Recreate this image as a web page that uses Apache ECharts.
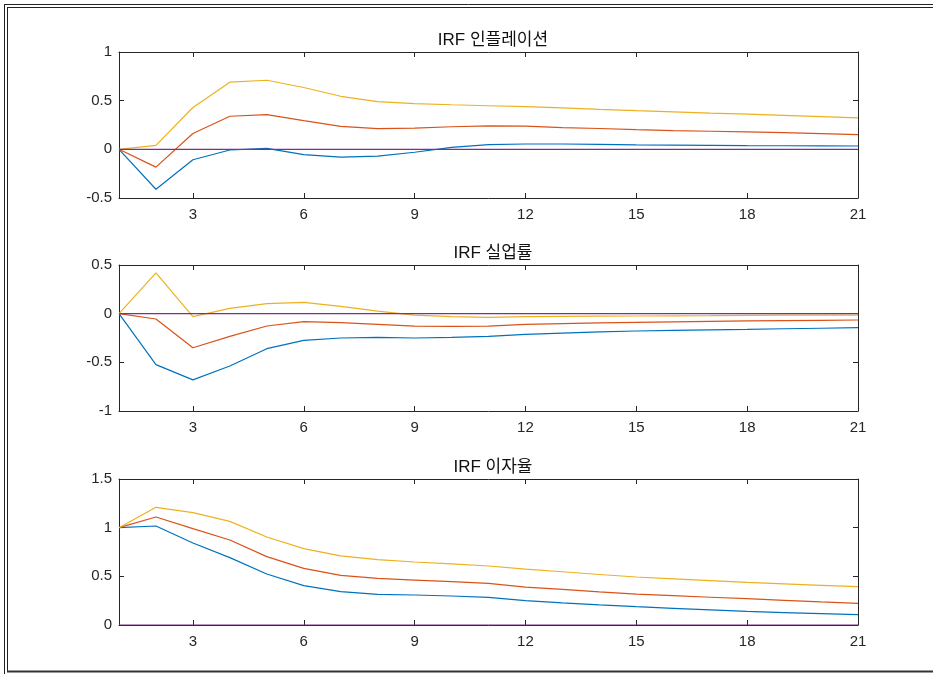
<!DOCTYPE html>
<html>
<head>
<meta charset="utf-8">
<script src="https://cdn.jsdelivr.net/npm/echarts@6/dist/echarts.min.js"></script>
<style>
  html, body { margin: 0; padding: 0; background: #fff; }
  #chart { width: 933px; height: 674px; }
</style>
</head>
<body>
<div id="chart"></div>
<script>
// periods 1..21
var periods = [1, 2, 3, 4, 5, 6, 7, 8, 9, 10, 11, 12, 13, 14, 15, 16, 17, 18, 19, 20, 21];
var xTicks = [3, 6, 9, 12, 15, 18, 21];
var titles = ['IRF 인플레이션', 'IRF 실업률', 'IRF 이자율'];

// panel 1: inflation
var infLower = [0, -0.41, -0.107, -0.007, 0.01, -0.055, -0.08, -0.07, -0.03, 0.02, 0.048, 0.055, 0.055, 0.05, 0.045, 0.043, 0.04, 0.038, 0.037, 0.035, 0.034];
var infMid   = [0, -0.183, 0.163, 0.34, 0.357, 0.295, 0.236, 0.212, 0.218, 0.232, 0.241, 0.238, 0.224, 0.214, 0.203, 0.193, 0.186, 0.179, 0.172, 0.162, 0.152];
var infUpper = [0, 0.04, 0.43, 0.69, 0.71, 0.635, 0.545, 0.49, 0.47, 0.458, 0.448, 0.438, 0.425, 0.41, 0.397, 0.385, 0.373, 0.362, 0.349, 0.337, 0.324];
var infZero  = [0, 0, 0, 0, 0, 0, 0, 0, 0, 0, 0, 0, 0, 0, 0, 0, 0, 0, 0, 0, 0];

// panel 2: unemployment
var unLower = [0, -0.524, -0.68, -0.538, -0.36, -0.274, -0.25, -0.243, -0.25, -0.243, -0.233, -0.212, -0.2, -0.188, -0.178, -0.172, -0.166, -0.161, -0.155, -0.15, -0.144];
var unMid   = [0, -0.055, -0.35, -0.233, -0.127, -0.082, -0.092, -0.11, -0.127, -0.13, -0.127, -0.11, -0.102, -0.095, -0.089, -0.084, -0.079, -0.075, -0.071, -0.068, -0.065];
var unUpper = [0, 0.42, -0.03, 0.055, 0.103, 0.116, 0.075, 0.027, -0.014, -0.03, -0.038, -0.03, -0.028, -0.026, -0.024, -0.022, -0.02, -0.017, -0.016, -0.015, -0.014];
var unZero  = [0, 0, 0, 0, 0, 0, 0, 0, 0, 0, 0, 0, 0, 0, 0, 0, 0, 0, 0, 0, 0];

// panel 3: interest rate
var irLower = [1.0, 1.017, 0.842, 0.692, 0.524, 0.404, 0.342, 0.315, 0.308, 0.298, 0.284, 0.25, 0.228, 0.207, 0.188, 0.171, 0.155, 0.14, 0.128, 0.117, 0.106];
var irMid   = [1.0, 1.11, 0.99, 0.873, 0.702, 0.582, 0.51, 0.479, 0.462, 0.445, 0.428, 0.39, 0.365, 0.341, 0.318, 0.301, 0.285, 0.27, 0.254, 0.238, 0.223];
var irUpper = [1.0, 1.209, 1.154, 1.065, 0.904, 0.784, 0.71, 0.671, 0.647, 0.627, 0.606, 0.575, 0.547, 0.519, 0.493, 0.474, 0.456, 0.438, 0.423, 0.408, 0.394];
var irZero  = [0, 0, 0, 0, 0, 0, 0, 0, 0, 0, 0, 0, 0, 0, 0, 0, 0, 0, 0, 0, 0];

var yRanges = [[-0.5, 1], [-1, 0.5], [0, 1.5]];
var panels = [
  [infLower, infMid, infUpper, infZero],
  [unLower, unMid, unUpper, unZero],
  [irLower, irMid, irUpper, irZero]
];
var colors = ['#0072BD', '#D95319', '#EDB120', '#7E2F8E'];

var gridTops = [52, 265, 479];
var gridH = 146;
var fontFam = 'Liberation Sans, Arial, Noto Sans CJK KR, sans-serif';
var axisColor = '#262626';

function pairs(ys) {
  return periods.map(function(p, i) { return [p, ys[i]]; });
}

var grids = [], xAxes = [], yAxes = [], series = [], titleOpts = [];

panels.forEach(function(lines, k) {
  grids.push({ left: 119, width: 739, top: gridTops[k], height: gridH });
  titleOpts.push({
    text: titles[k],
    left: 488, top: gridTops[k] - 25, textAlign: 'center',
    textStyle: { fontFamily: fontFam, fontSize: 17, fontWeight: 'normal', color: '#111' }
  });
  [ 'bottom', 'top' ].forEach(function(pos) {
    xAxes.push({
      type: 'value', gridIndex: k, position: pos,
      min: 1, max: 21,
      axisLine: { show: true, onZero: false, lineStyle: { color: axisColor, width: 1 } },
      axisTick: { show: true, inside: true, length: 5, customValues: xTicks, lineStyle: { color: axisColor } },
      axisLabel: { show: pos === 'bottom', customValues: xTicks, color: axisColor, fontSize: 15, fontFamily: fontFam, margin: 9 },
      splitLine: { show: false }
    });
  });
  [ 'left', 'right' ].forEach(function(pos) {
    yAxes.push({
      type: 'value', gridIndex: k, position: pos,
      min: yRanges[k][0], max: yRanges[k][1], interval: 0.5,
      axisLine: { show: true, onZero: false, lineStyle: { color: axisColor, width: 1 } },
      axisTick: { show: true, inside: true, length: 5, lineStyle: { color: axisColor } },
      axisLabel: { show: pos === 'left', color: axisColor, fontSize: 15, fontFamily: fontFam, margin: 7 },
      splitLine: { show: false }
    });
  });
  lines.forEach(function(ys, j) {
    series.push({
      type: 'line',
      xAxisIndex: k * 2, yAxisIndex: k * 2,
      data: pairs(ys),
      showSymbol: false,
      symbol: 'none',
      lineStyle: { color: colors[j], width: 1.2 },
      itemStyle: { color: colors[j] },
      silent: true,
      z: 2 + j,
      animation: false
    });
  });
});

var chart = echarts.init(document.getElementById('chart'));
chart.setOption({
  backgroundColor: '#fff',
  animation: false,
  title: titleOpts,
  grid: grids,
  xAxis: xAxes,
  yAxis: yAxes,
  series: series,
  graphic: [
    { type: 'line', shape: { x1: 4, y1: 4.5, x2: 933, y2: 4.5 }, style: { stroke: '#222', lineWidth: 1 } },
    { type: 'line', shape: { x1: 7, y1: 7.5, x2: 933, y2: 7.5 }, style: { stroke: '#222', lineWidth: 1 } },
    { type: 'line', shape: { x1: 4.5, y1: 4, x2: 4.5, y2: 674 }, style: { stroke: '#222', lineWidth: 1 } },
    { type: 'line', shape: { x1: 7.5, y1: 7, x2: 7.5, y2: 671 }, style: { stroke: '#222', lineWidth: 1 } },
    { type: 'line', shape: { x1: 7, y1: 671.5, x2: 933, y2: 671.5 }, style: { stroke: '#333', lineWidth: 2 } }
  ]
});
</script>
</body>
</html>
